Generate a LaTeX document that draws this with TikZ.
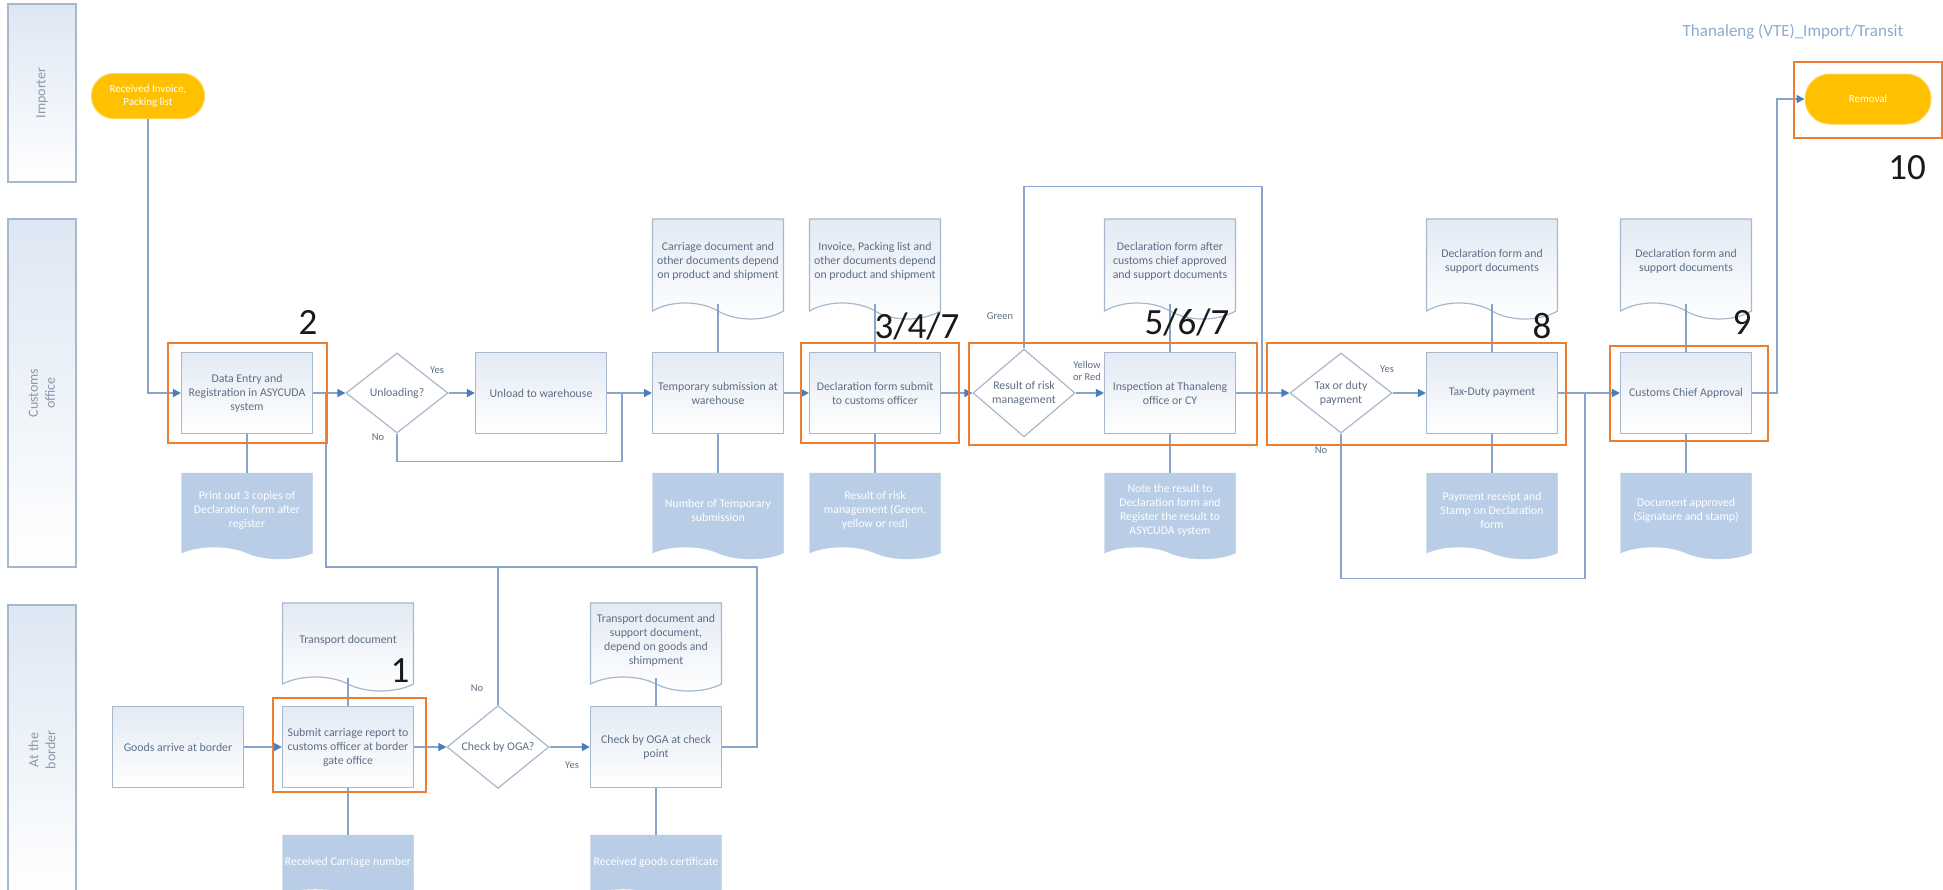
\documentclass[tikz,border=0pt]{standalone}
\usepackage{fontspec}
\setmainfont{Carlito}
\usetikzlibrary{shapes.geometric}
\usetikzlibrary{shapes.symbols}
\usetikzlibrary{shapes.misc}
\usetikzlibrary{arrows.meta}
\definecolor{flowline}{HTML}{87A5CC}
\definecolor{tipblue}{HTML}{4A7EBB}
\definecolor{boxline}{HTML}{A8B8CC}
\definecolor{boxtop}{HTML}{E3EAF4}
\definecolor{txtgray}{HTML}{5E6E85}
\definecolor{docfill}{HTML}{B9CDE6}
\definecolor{termfill}{HTML}{FFC000}
\definecolor{hiorange}{HTML}{ED7D31}
\definecolor{lanetop}{HTML}{DDE7F3}
\definecolor{lanetext}{HTML}{8B99AC}
\definecolor{titleblue}{HTML}{8DABD0}
\tikzset{
    procbox/.style = {rectangle, draw=boxline, line width=1.2pt, top color=boxtop, bottom color=white, minimum width=131pt, minimum height=81pt, align=center, font=\fontsize{11.8}{14}\selectfont, text=txtgray, inner sep=2pt},
    decision/.style = {diamond, draw=boxline, line width=1.2pt, fill=white, minimum width=102pt, minimum height=80pt, inner sep=0pt, align=center, font=\fontsize{11.8}{14}\selectfont, text=txtgray},
    docin/.style = {tape, tape bend top=none, tape bend bottom=out and in, tape bend height=16pt, draw=boxline, line width=1.2pt, top color=boxtop, bottom color=white, minimum width=131pt, minimum height=100pt, align=center, font=\fontsize{11.8}{14}\selectfont, text=txtgray, inner sep=2pt},
    docout/.style = {tape, tape bend top=none, tape bend bottom=out and in, tape bend height=12pt, draw=docfill, fill=docfill, minimum width=131pt, minimum height=86pt, align=center, font=\fontsize{11.8}{14}\selectfont, text=white, inner sep=2pt},
    terminal/.style = {rounded rectangle, fill=termfill, draw=termfill!70!white, line width=1pt, align=center, font=\fontsize{11}{13.5}\selectfont, text=white, inner sep=2pt},
    lane/.style = {rectangle, draw=boxline, line width=1.2pt, top color=lanetop, bottom color=white, minimum width=68pt},
    lanetext/.style = {rotate=90, align=center, font=\fontsize{14}{17}\selectfont, text=lanetext},
    flow/.style = {draw=flowline, line width=1.5pt, -{Triangle[length=8pt,width=8pt,color=tipblue]}},
    line/.style = {draw=flowline, line width=1.5pt},
    lbl/.style = {align=center, font=\fontsize{10.5}{12.5}\selectfont, text=txtgray, inner sep=1pt},
    numlbl/.style = {font=\fontsize{37}{40}\selectfont, text=black!90, inner sep=0pt},
    hilite/.style = {draw=hiorange, line width=2.6pt}
}
\begin{document}
\begin{tikzpicture}[x=1pt,y=-1pt]
  \fill[white] (0,0) rectangle (1943,889);
  \useasboundingbox (0,0) rectangle (1943,889);
  % swim lanes
  \node[lane, minimum height=178pt, label={[lanetext]center:Importer}] (laneimp) at (42,93) {};
  \node[lane, minimum height=348pt, label={[lanetext]center:Customs\\office}] (lanecus) at (42,393) {};
  \node[lane, minimum height=290pt, label={[lanetext]center:At the\\border}] (lanebor) at (42,750) {};
  \node[font=\fontsize{17}{20}\selectfont, text=titleblue] (title) at (1793,32) {Thanaleng (VTE)\_Import/Transit};

  % importer
  \node[terminal, minimum width=117pt, minimum height=45pt] (start) at (148,96) {Received Invoice,\\Packing list};
  \node[terminal, minimum width=130pt, minimum height=50pt] (removal) at (1868,99) {Removal};

  % customs office row
  \node[procbox] (dataentry) at (247,393) {Data Entry and\\Registration in ASYCUDA\\system};
  \node[decision] (unloadq) at (397,393) {Unloading?};
  \node[procbox] (unload) at (541,393) {Unload to warehouse};
  \node[procbox] (tempsub) at (718,393) {Temporary submission at\\warehouse};
  \node[procbox] (declsub) at (875,393) {Declaration form submit\\to customs officer};
  \node[decision] (riskq) at (1024,393) {Result of risk\\management};
  \node[procbox] (inspect) at (1170,393) {Inspection at Thanaleng\\office or CY};
  \node[decision] (taxq) at (1341,393) {Tax or duty\\payment};
  \node[procbox] (taxpay) at (1492,393) {Tax-Duty payment};
  \node[procbox] (chief) at (1686,393) {Customs Chief Approval};

  % documents in
  \node[docin] (tempdoc) at (718,261) {Carriage document and\\other documents depend\\on product and shipment};
  \node[docin] (decldoc) at (875,261) {Invoice, Packing list and\\other documents depend\\on product and shipment};
  \node[docin] (inspdoc) at (1170,261) {Declaration form after\\customs chief approved\\and support documents};
  \node[docin] (taxdoc) at (1492,261) {Declaration form and\\support documents};
  \node[docin] (chiefdoc) at (1686,261) {Declaration form and\\support documents};

  % documents out
  \node[docout] (dataout) at (247,510) {Print out 3 copies of\\Declaration form after\\register};
  \node[docout] (tempout) at (718,510) {Number of Temporary\\submission};
  \node[docout] (declout) at (875,510) {Result of risk\\management (Green,\\yellow or red)};
  \node[docout] (inspout) at (1170,510) {Note the result to\\Declaration form and\\Register the result to\\ASYCUDA system};
  \node[docout] (taxout) at (1492,510) {Payment receipt and\\Stamp on Declaration\\form};
  \node[docout] (chiefout) at (1686,510) {Document approved\\(Signature and stamp)};

  % border row
  \node[procbox] (goods) at (178,747) {Goods arrive at border};
  \node[procbox] (submit) at (348,747) {Submit carriage report to\\customs officer at border\\gate office};
  \node[decision] (ogaq) at (498,747) {Check by OGA?};
  \node[procbox] (ogabox) at (656,747) {Check by OGA at check\\point};
  \node[docin, minimum height=88pt, tape bend height=14pt] (subdoc) at (348,640) {Transport document};
  \node[docin, minimum height=88pt, tape bend height=14pt] (ogadoc) at (656,640) {Transport document and\\support document,\\depend on goods and\\shimpment};
  \node[docout, minimum height=64pt, tape bend height=10pt] (subout) at (348,862) {Received Carriage number};
  \node[docout, minimum height=64pt, tape bend height=10pt] (ogaout) at (656,862) {Received goods certificate};

  % junctions
  \coordinate (j1) at (622,393);
  \coordinate (j2) at (1262,393);
  \coordinate (j3) at (1585,393);
  \coordinate (j4) at (326,393);
  \coordinate (j5) at (326,567);

  % connectors
  \draw[flow] (start.south) |- (dataentry.west);
  \draw[flow] (dataentry.east) -- (unloadq.west);
  \draw[flow] (unloadq.east) -- (unload.west);
  \draw[line] (unloadq.south) -- ++(0,28) -| (j1);
  \draw[flow] (unload.east) -- (tempsub.west);
  \draw[flow] (tempsub.east) -- (declsub.west);
  \draw[flow] (declsub.east) -- (riskq.west);
  \draw[flow] (riskq.east) -- (inspect.west);
  \draw[line] (riskq.north) -- ++(0,-162) -| (j2);
  \draw[flow] (inspect.east) -- (taxq.west);
  \draw[flow] (taxq.east) -- (taxpay.west);
  \draw[line] (taxq.south) -- ++(0,145) -| (j3);
  \draw[flow] (taxpay.east) -- (chief.west);
  \draw[flow] (chief.east) -- ++(25,0) |- (removal.west);
  \draw[flow] (goods.east) -- (submit.west);
  \draw[flow] (submit.east) -- (ogaq.west);
  \draw[flow] (ogaq.east) -- (ogabox.west);
  \draw[line] (ogabox.east) -- ++(35,0) |- (j5) -- (j4);
  \draw[line] (ogaq.north) -- (ogaq.north |- j5);
  % document links
  \draw[line] (tempdoc.south) -- (tempsub.north);
  \draw[line] (decldoc.south) -- (declsub.north);
  \draw[line] (inspdoc.south) -- (inspect.north);
  \draw[line] (taxdoc.south) -- (taxpay.north);
  \draw[line] (chiefdoc.south) -- (chief.north);
  \draw[line] (dataentry.south) -- (dataout.north);
  \draw[line] (tempsub.south) -- (tempout.north);
  \draw[line] (declsub.south) -- (declout.north);
  \draw[line] (inspect.south) -- (inspout.north);
  \draw[line] (taxpay.south) -- (taxout.north);
  \draw[line] (chief.south) -- (chiefout.north);
  \draw[line] (subdoc.south) -- (submit.north);
  \draw[line] (ogadoc.south) -- (ogabox.north);
  \draw[line] (submit.south) -- (subout.north);
  \draw[line] (ogabox.south) -- (ogaout.north);

  % branch labels
  \node[lbl] (yes1) at (437,370) {Yes};
  \node[lbl] (no1) at (378,437) {No};
  \node[lbl] (green) at (1000,316) {Green};
  \node[lbl] (yelred) at (1087,371) {Yellow\\or Red};
  \node[lbl] (yes2) at (1387,369) {Yes};
  \node[lbl] (no2) at (1321,450) {No};
  \node[lbl] (no3) at (477,688) {No};
  \node[lbl] (yes3) at (572,765) {Yes};

  % step highlights
  \foreach \xa/\ya/\xb/\yb in {273/698/426/792, 168/343/327/443, 801/343/959/443, 969/343/1257/445, 1267/343/1566/445, 1610/346/1768/441, 1794/62/1942/138}
    \draw[hilite] (\xa,\ya) rectangle (\xb,\yb);
  \node[numlbl] (n1) at (400,671) {1};
  \node[numlbl] (n2) at (308,322) {2};
  \node[numlbl] (n3) at (917,326) {3/4/7};
  \node[numlbl] (n5) at (1187,322) {5/6/7};
  \node[numlbl] (n8) at (1542,326) {8};
  \node[numlbl] (n9) at (1742,322) {9};
  \node[numlbl] (n10) at (1907,168) {10};
\end{tikzpicture}
\end{document}
